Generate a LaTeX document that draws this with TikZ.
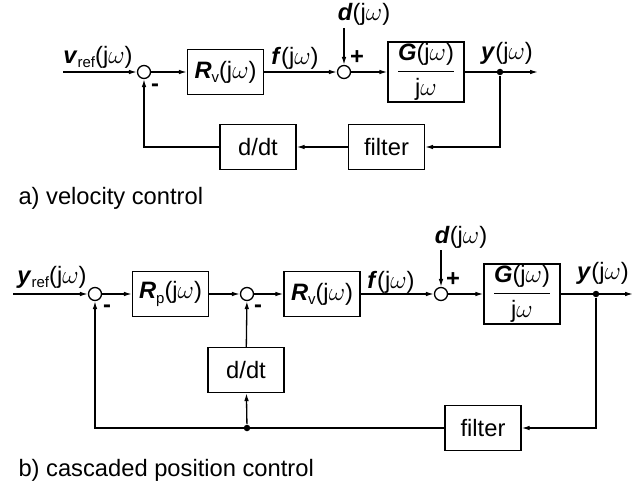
\documentclass[tikz,border=0pt]{standalone}
\usepackage{amsmath}
\usepackage{fontspec}
\setmainfont{Liberation Sans}
\usetikzlibrary{arrows.meta,positioning}

\newcommand{\bvec}[1]{\textbf{\textit{#1}}}
\newcommand{\jw}{(j$\omega$)}
\newcommand{\lowidx}[1]{\raisebox{-0.35ex}{\fontsize{8.5}{9}\selectfont #1}}

\tikzset{
	block/.style={draw, minimum width=1.52cm, minimum height=0.9cm, inner sep=1pt},
	tallblock/.style={block, minimum height=1.2cm},
	sumnode/.style={draw, circle, minimum size=0.26cm, inner sep=0pt},
	junction/.style={circle, fill, minimum size=0.13cm, inner sep=0pt},
	sign/.style={inner sep=0pt, font=\fontsize{13.5}{16}\selectfont\bfseries}
}

\begin{document}
\begin{tikzpicture}[x=0.02cm, y=-0.02cm, line width=0.75pt,
	>={Latex[length=4.5pt,width=2.6pt]},
	every node/.append style={font=\fontsize{13.5}{16}\selectfont}]
	\useasboundingbox (0,0) rectangle (639,483);
	% a) velocity control
	\coordinate (inA) at (63,72);
	\node[sumnode] (sumA1) at (144,72) {};
	\node[block] (RvA) at (225.5,72) {\bvec{R}\lowidx{v}\jw};
	\node[sumnode] (sumA2) at (344,72) {};
	\coordinate (distA) at (344,28);
	\node[tallblock] (GA) at (426,72) {$\dfrac{\mbox{\bvec{G}(j$\omega$)}}{\mbox{j$\omega$}}$};
	\node[junction] (yA) at (500,72) {};
	\coordinate (outA) at (538,72);
	\node[block] (filterA) at (386.5,147) {filter};
	\node[block] (ddtA) at (258,147) {d/dt};
	\draw[->] (inA) -- (sumA1);
	\draw[->] (sumA1) -- (RvA);
	\draw[->] (RvA) -- (sumA2);
	\draw[->] (distA) -- (sumA2);
	\draw[->] (sumA2) -- (GA);
	\draw[->] (GA) -- (outA);
	\draw[->] (yA) |- (filterA);
	\draw[->] (filterA) -- (ddtA);
	\draw[->] (ddtA) -| (sumA1);
	\node at (98,57) {\bvec{v}\lowidx{ref}\jw};
	\node at (295,58) {\bvec{f}\jw};
	\node at (364,14) {\bvec{d}\jw};
	\node at (507,53) {\bvec{y}\jw};
	\node[sign] at (357,58) {+};
	\node[sign] at (155,88) {-};
	\node[anchor=west] at (12,198) {a) velocity control};
	% b) cascaded position control
	\coordinate (inB) at (13,294);
	\node[sumnode] (sumB1) at (95,294) {};
	\node[block] (RpB) at (170.5,294) {\bvec{R}\lowidx{p}\jw};
	\node[sumnode] (sumB2) at (247,294) {};
	\node[block] (RvB) at (322,294) {\bvec{R}\lowidx{v}\jw};
	\node[sumnode] (sumB3) at (441,294) {};
	\coordinate (distB) at (441,250);
	\node[tallblock] (GB) at (522,294) {$\dfrac{\mbox{\bvec{G}(j$\omega$)}}{\mbox{j$\omega$}}$};
	\node[junction] (yB) at (596,294) {};
	\coordinate (outB) at (633,294);
	\node[block] (ddtB) at (246,370) {d/dt};
	\node[block] (filterB) at (483,428) {filter};
	\node[junction] (splitB) at (247,428) {};
	\draw[->] (inB) -- (sumB1);
	\draw[->] (sumB1) -- (RpB);
	\draw[->] (RpB) -- (sumB2);
	\draw[->] (sumB2) -- (RvB);
	\draw[->] (RvB) -- (sumB3);
	\draw[->] (distB) -- (sumB3);
	\draw[->] (sumB3) -- (GB);
	\draw[->] (GB) -- (outB);
	\draw[->] (yB) |- (filterB);
	\draw[->] (filterB) -| (sumB1);
	\draw[->] (splitB) -- (ddtB);
	\draw[->] (ddtB) -- (sumB2);
	\node at (52,277) {\bvec{y}\lowidx{ref}\jw};
	\node at (391,282) {\bvec{f}\jw};
	\node at (461,237) {\bvec{d}\jw};
	\node at (603,273) {\bvec{y}\jw};
	\node[sign] at (453,280) {+};
	\node[sign] at (107,309) {-};
	\node[sign] at (258,309) {-};
	\node[anchor=west] at (12,470) {b) cascaded position control};
\end{tikzpicture}
\end{document}
